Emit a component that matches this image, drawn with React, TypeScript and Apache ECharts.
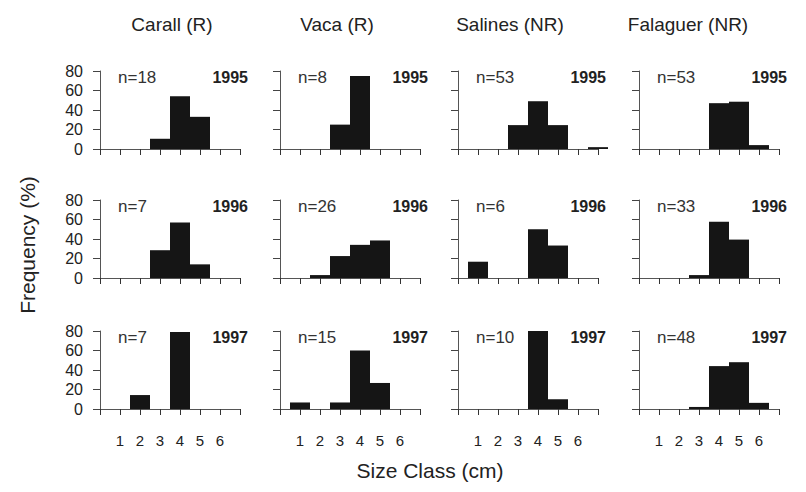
import React, { useEffect, useRef } from 'react';
import * as echarts from 'echarts';

// ---------- data ----------
const sites = ['Carall (R)', 'Vaca (R)', 'Salines (NR)', 'Falaguer (NR)'];
const years = ['1995', '1996', '1997'];
const sizeClasses = [1, 2, 3, 4, 5, 6, 7];
const xTickLabels = ['1', '2', '3', '4', '5', '6'];
const yTickValues = [0, 20, 40, 60, 80];

// sample sizes per year (rows) and site (columns)
const n1995 = [18, 8, 53, 53];
const n1996 = [7, 26, 6, 33];
const n1997 = [7, 15, 10, 48];

// frequency (%) per size class 1..7
const carall1995 = [0, 0, 10.5, 54, 33, 0, 0];
const vaca1995 = [0, 0, 25, 75, 0, 0, 0];
const salines1995 = [0, 0, 24.5, 49, 24.5, 0, 1.9];
const falaguer1995 = [0, 0, 0, 47, 48.5, 4, 0];

const carall1996 = [0, 0, 28.5, 57, 14, 0, 0];
const vaca1996 = [0, 3, 22.5, 34, 38.5, 0, 0];
const salines1996 = [16.7, 0, 0, 50, 33.3, 0, 0];
const falaguer1996 = [0, 0, 3, 57.6, 39.4, 0, 0];

const carall1997 = [0, 14.3, 0, 79, 0, 0, 0];
const vaca1997 = [6.7, 0, 6.7, 60, 26.7, 0, 0];
const salines1997 = [0, 0, 0, 80, 10, 0, 0];
const falaguer1997 = [0, 0, 2.1, 44, 48, 6.3, 0];

const rowsData = [
  [carall1995, vaca1995, salines1995, falaguer1995],
  [carall1996, vaca1996, salines1996, falaguer1996],
  [carall1997, vaca1997, salines1997, falaguer1997],
];
const rowsN = [n1995, n1996, n1997];

// ---------- layout ----------
const colX = [100, 280, 458, 639];
const rowTop = [71, 200, 331];
const gridW = 140;
const gridH = 78;
const titleX = [172, 337, 510, 688];
const FONT = '"Liberation Sans", Arial, Helvetica, sans-serif';
const AXIS_COLOR = '#555';
const BAR_COLOR = '#151515';

export default function App() {
  const ref = useRef<HTMLDivElement>(null);

  useEffect(() => {
    if (!ref.current) return;
    const chart = echarts.init(ref.current, undefined, { renderer: 'svg' });

    const grid: any[] = [];
    const xAxis: any[] = [];
    const yAxis: any[] = [];
    const series: any[] = [];
    const graphics: any[] = [];

    rowsData.forEach((row, r) => {
      row.forEach((vals, c) => {
        const idx = grid.length;
        grid.push({ left: colX[c], top: rowTop[r], width: gridW, height: gridH });
        xAxis.push({
          type: 'value',
          gridIndex: idx,
          min: 0,
          max: 7,
          interval: 1,
          axisLine: { show: true, onZero: false, lineStyle: { color: AXIS_COLOR, width: 1 } },
          axisTick: { show: true, length: 6, lineStyle: { color: '#333', width: 1 } },
          axisLabel: {
            show: r === 2,
            margin: 24,
            fontSize: 15,
            color: '#222',
            fontFamily: FONT,
            formatter: (v: number) => (xTickLabels.includes(String(v)) ? String(v) : ''),
          },
          splitLine: { show: false },
        });
        yAxis.push({
          type: 'value',
          gridIndex: idx,
          min: 0,
          max: 80,
          interval: 20,
          axisLine: { show: true, lineStyle: { color: AXIS_COLOR, width: 1 } },
          axisTick: { show: true, length: 7, lineStyle: { color: '#444', width: 1 } },
          axisLabel: {
            show: c === 0,
            margin: 17,
            fontSize: 16,
            color: '#222',
            fontFamily: FONT,
            formatter: (v: number) => (yTickValues.includes(v) ? String(v) : ''),
          },
          splitLine: { show: false },
        });
        series.push({
          type: 'bar',
          xAxisIndex: idx,
          yAxisIndex: idx,
          barWidth: 20,
          clip: true,
          silent: true,
          itemStyle: { color: BAR_COLOR },
          data: vals.map((v, k) => [sizeClasses[k], v]),
        });
        graphics.push({
          type: 'text',
          x: colX[c] + 18,
          y: rowTop[r] + 6,
          style: {
            text: 'n=' + rowsN[r][c],
            fontSize: 17,
            fontFamily: FONT,
            fill: '#333',
            align: 'left',
            verticalAlign: 'middle',
          },
        });
        graphics.push({
          type: 'text',
          x: colX[c] + gridW + 8,
          y: rowTop[r] + 6,
          style: {
            text: years[r],
            fontSize: 16,
            fontWeight: 'bold',
            fontFamily: FONT,
            fill: '#222',
            align: 'right',
            verticalAlign: 'middle',
          },
        });
      });
    });

    sites.forEach((s, c) => {
      graphics.push({
        type: 'text',
        x: titleX[c],
        y: 24,
        style: {
          text: s,
          fontSize: 19,
          fontFamily: FONT,
          fill: '#222',
          align: 'center',
          verticalAlign: 'middle',
        },
      });
    });

    graphics.push({
      type: 'text',
      x: 27,
      y: 245,
      rotation: Math.PI / 2,
      style: {
        text: 'Frequency (%)',
        fontSize: 21,
        fontFamily: FONT,
        fill: '#222',
        align: 'center',
        verticalAlign: 'middle',
      },
    });
    graphics.push({
      type: 'text',
      x: 430,
      y: 470,
      style: {
        text: 'Size Class (cm)',
        fontSize: 21,
        fontFamily: FONT,
        fill: '#222',
        align: 'center',
        verticalAlign: 'middle',
      },
    });

    chart.setOption({
      animation: false,
      backgroundColor: '#ffffff',
      grid,
      xAxis,
      yAxis,
      series,
      graphic: graphics,
    });

    return () => chart.dispose();
  }, []);

  return (
    <div
      ref={ref}
      style={{ position: 'absolute', left: 0, top: 0, width: 806, height: 492 }}
    />
  );
}
